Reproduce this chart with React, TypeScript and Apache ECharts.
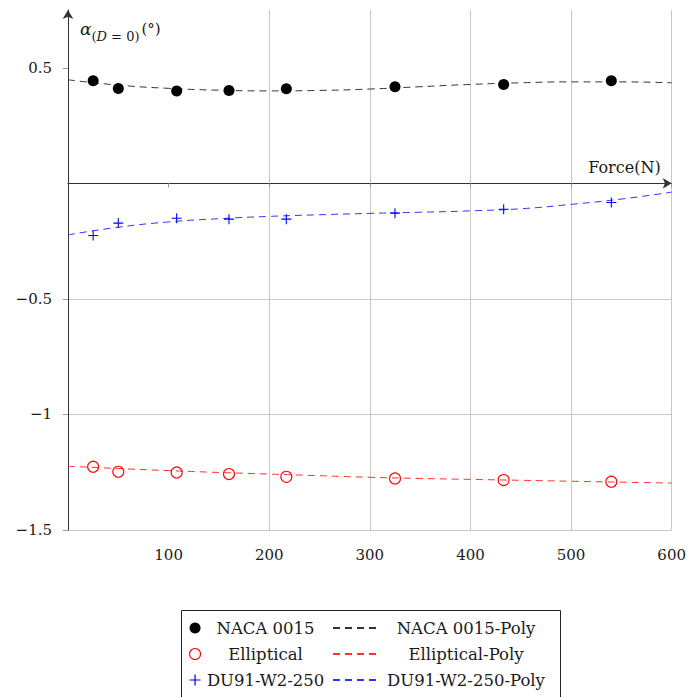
import React, { useEffect, useRef } from "react";
import * as echarts from "echarts";

const FONT = "DejaVu Serif";

const forceX = [25, 50, 108, 160, 217, 325, 433, 540];
const nacaY = [0.444, 0.41, 0.4, 0.402, 0.409, 0.418, 0.428, 0.444];
const ellipticalY = [-1.226, -1.248, -1.251, -1.258, -1.27, -1.277, -1.284, -1.291];
const duY = [-0.226, -0.172, -0.151, -0.155, -0.155, -0.129, -0.112, -0.083];

const polyX = [0, 50, 100, 150, 200, 250, 300, 350, 400, 450, 500, 550, 600];
const nacaPolyY = [0.448, 0.425, 0.411, 0.403, 0.4, 0.402, 0.408, 0.418, 0.428, 0.435, 0.439, 0.439, 0.435];
const ellipticalPolyY = [-1.224, -1.234, -1.243, -1.251, -1.258, -1.265, -1.272, -1.277, -1.281, -1.285, -1.289, -1.293, -1.297];
const duPolyY = [-0.223, -0.19, -0.167, -0.153, -0.143, -0.136, -0.13, -0.125, -0.119, -0.11, -0.091, -0.068, -0.038];

const xTicks = [100, 200, 300, 400, 500, 600];
const yTicks = [-1.5, -1, -0.5, 0.5];

const pairs = (xs: number[], ys: number[]) => xs.map((x, i) => [x, ys[i]]);

const PLUS = "path://M0,4.45H10V5.55H0Z M4.45,0H5.55V10H4.45Z";

export default function App() {
  const ref = useRef<HTMLDivElement>(null);
  useEffect(() => {
    if (!ref.current) return;
    document.body.style.margin = "0";
    const chart = echarts.init(ref.current, undefined, { renderer: "svg" });
    const grey = "#c8c8c8";
    const axisCol = "#333";
    const txt = "#1a1a1a";
    const legendText = (w: number) => ({
      fontFamily: FONT,
      fontSize: 16.5,
      color: txt,
      lineHeight: 22,
      rich: { c: { width: w, align: "center", fontFamily: FONT, fontSize: 16.5, color: txt, lineHeight: 22 } },
    });
    chart.setOption({
      animation: false,
      grid: { left: 68, right: 16, top: 10, bottom: 167 },
      xAxis: {
        type: "value",
        min: 0,
        max: 600,
        interval: 100,
        name: "Force(N)",
        nameLocation: "end",
        nameGap: -11,
        nameTextStyle: {
          fontFamily: FONT,
          fontSize: 16,
          color: txt,
          align: "right",
          verticalAlign: "bottom",
          padding: [0, 0, 8, 0],
        },
        axisLine: {
          onZero: true,
          symbol: ["none", "arrow"],
          symbolSize: [8, 9],
          lineStyle: { color: axisCol, width: 1 },
        },
        axisTick: { show: true, length: 4, customValues: xTicks, lineStyle: { color: "#999" } },
        axisLabel: {
          customValues: xTicks,
          fontFamily: FONT,
          fontSize: 15,
          color: txt,
          margin: 17,
        },
        splitLine: { show: true, showMinLine: false, lineStyle: { color: grey, width: 1 } },
      },
      yAxis: {
        type: "value",
        min: -1.5,
        max: 0.75,
        interval: 0.5,
        name: "{a|α}{s|(}{si|D}{s| = 0)}{b|(°)}",
        nameLocation: "end",
        nameGap: -5,
        nameTextStyle: {
          align: "left",
          verticalAlign: "top",
          padding: [0, 0, 0, 12],
          rich: {
            a: { fontFamily: FONT, fontSize: 17, fontStyle: "italic", lineHeight: 28, color: txt },
            s: { fontFamily: FONT, fontSize: 13, lineHeight: 14, verticalAlign: "bottom", color: txt },
            si: { fontFamily: FONT, fontSize: 13, fontStyle: "italic", lineHeight: 14, verticalAlign: "bottom", color: txt },
            b: { fontFamily: FONT, fontSize: 15, lineHeight: 18, color: txt, padding: [0, 0, 0, 2] },
          },
        },
        axisLine: {
          show: true,
          onZero: false,
          symbol: ["none", "arrow"],
          symbolSize: [8, 9],
          lineStyle: { color: axisCol, width: 1 },
        },
        axisTick: { show: true, length: 5, customValues: yTicks, lineStyle: { color: "#999" } },
        axisLabel: {
          customValues: yTicks,
          fontFamily: FONT,
          fontSize: 15,
          color: txt,
          margin: 16,
          formatter: (v: number) => (v < 0 ? "\u2212" + String(Math.abs(v)) : String(v)),
        },
        splitLine: { show: true, showMaxLine: false, lineStyle: { color: grey, width: 1 } },
      },
      legend: [
        {
          data: [
            "NACA 0015",
            { name: "Elliptical", itemStyle: { borderWidth: 1.1, borderColor: "#ff0000", color: "rgba(255,255,255,0)" } },
            "DU91-W2-250",
          ],
          orient: "vertical",
          left: 189,
          top: 617,
          padding: 0,
          itemWidth: 11,
          itemHeight: 11,
          itemGap: 4,
          selectedMode: false,
          formatter: (n: string) => `{c|${n}}`,
          textStyle: legendText(120),
        },
        {
          data: ["NACA 0015-Poly", "Elliptical-Poly", "DU91-W2-250-Poly"],
          orient: "vertical",
          left: 332,
          top: 617,
          padding: 0,
          itemWidth: 45,
          itemHeight: 11,
          itemGap: 4,
          selectedMode: false,
          itemStyle: { opacity: 0 },
          formatter: (n: string) => `{c|${n}}`,
          textStyle: legendText(166),
        },
      ],
      graphic: [
        {
          type: "rect",
          shape: { x: 181.5, y: 610.5, width: 379, height: 100 },
          style: { fill: "none", stroke: "#222", lineWidth: 1 },
          silent: true,
        },
      ],
      series: [
        {
          name: "NACA 0015-Poly",
          type: "line",
          data: pairs(polyX, nacaPolyY),
          smooth: true,
          symbol: "none",
          lineStyle: { color: "#333", width: 1, type: [7, 5] },
          itemStyle: { color: "#333" },
          z: 2,
        },
        {
          name: "Elliptical-Poly",
          type: "line",
          data: pairs(polyX, ellipticalPolyY),
          smooth: true,
          symbol: "none",
          lineStyle: { color: "#ff3030", width: 1, type: [7, 5] },
          itemStyle: { color: "#ff3030" },
          z: 2,
        },
        {
          name: "DU91-W2-250-Poly",
          type: "line",
          data: pairs(polyX, duPolyY),
          smooth: true,
          symbol: "none",
          lineStyle: { color: "#3030ff", width: 1, type: [7, 5] },
          itemStyle: { color: "#3030ff" },
          z: 2,
        },
        {
          name: "NACA 0015",
          type: "scatter",
          data: pairs(forceX, nacaY),
          symbol: "circle",
          symbolSize: 11,
          itemStyle: { color: "#000", opacity: 1 },
          z: 3,
        },
        {
          name: "Elliptical",
          type: "scatter",
          data: pairs(forceX, ellipticalY),
          symbol: "circle",
          symbolSize: 11,
          itemStyle: { color: "rgba(255,255,255,0)", borderColor: "#ff0000", borderWidth: 1.1, opacity: 1 },
          z: 3,
        },
        {
          name: "DU91-W2-250",
          type: "scatter",
          data: pairs(forceX, duY),
          symbol: PLUS,
          symbolSize: 10,
          itemStyle: { color: "#0000ff", opacity: 1 },
          z: 3,
        },
      ],
    });
    return () => chart.dispose();
  }, []);
  return <div ref={ref} style={{ width: 689, height: 697 }} />;
}
